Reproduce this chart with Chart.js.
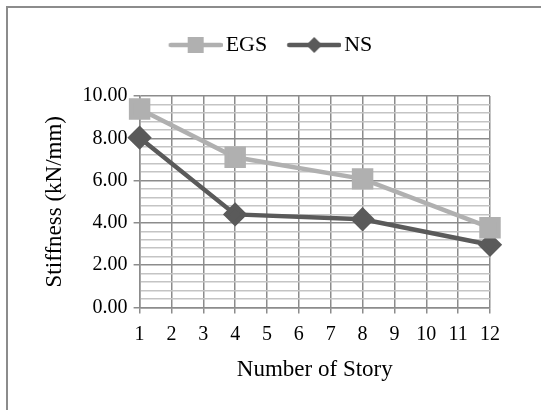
<!DOCTYPE html>
<html>
<head>
<meta charset="utf-8">
<script src="https://cdn.jsdelivr.net/npm/chart.js@4"></script>
<style>
  html, body { margin: 0; padding: 0; background: #fff; }
  #frame { position: absolute; left: 6px; top: 6px; width: 560px; height: 430px;
           border-left: 2px solid #8c8c8c; border-top: 2px solid #8c8c8c; }
  #wrap { position: absolute; left: 0; top: 0; width: 541px; height: 410px; }
</style>
</head>
<body>
<div id="frame"></div>
<div id="wrap"><canvas id="chart" width="541" height="410"></canvas></div>
<script>
// categorias do eixo X (numero de andares)
const stories = ["1", "2", "3", "4", "5", "6", "7", "8", "9", "10", "11", "12"];
// valores (null = sem ponto)
const egsValues = [9.38, null, null, 7.10, null, null, null, 6.08, null, null, null, 3.77];
const nsValues = [8.03, null, null, 4.40, null, null, null, 4.17, null, null, null, 2.96];
const yTicks = [0, 2, 4, 6, 8, 10];

const egsColor = "#b0b0b0";
const nsColor = "#5a5a5a";

// desenha o simbolo da legenda (linha + marcador)
function legendIcon(color, style) {
  const c = document.createElement("canvas");
  c.width = 56;
  c.height = 20;
  const g = c.getContext("2d");
  g.strokeStyle = color;
  g.fillStyle = color;
  g.lineWidth = 4.5;
  g.lineCap = "round";
  g.beginPath();
  g.moveTo(4, 10);
  g.lineTo(54, 10);
  g.stroke();
  if (style === "rect") {
    g.fillRect(29 - 8, 10 - 8, 16, 16);
  } else {
    g.beginPath();
    g.moveTo(29, 2);
    g.lineTo(37, 10);
    g.lineTo(29, 18);
    g.lineTo(21, 10);
    g.closePath();
    g.fill();
  }
  return c;
}

const isMajor = v => Math.abs(v / 2 - Math.round(v / 2)) < 1e-6;

// espaco extra entre a legenda e o grafico, e legenda um pouco a direita
const legendGap = {
  id: "legendGap",
  beforeInit(chart) {
    const fit = chart.legend.fit;
    chart.legend.fit = function () {
      fit.bind(chart.legend)();
      this.height += 30;
    };
  },
  afterLayout(chart) {
    chart.legend.left += 10;
    chart.legend.right += 10;
  }
};

const ctx = document.getElementById("chart").getContext("2d");

new Chart(ctx, {
  type: "line",
  plugins: [legendGap],
  data: {
    labels: stories,
    datasets: [
      {
        label: "EGS",
        data: egsValues,
        borderColor: egsColor,
        backgroundColor: egsColor,
        borderWidth: 4.5,
        pointStyle: "rect",
        pointRadius: 12,
        pointHoverRadius: 12,
        spanGaps: true,
        legendIcon: legendIcon(egsColor, "rect")
      },
      {
        label: "NS",
        data: nsValues,
        borderColor: nsColor,
        backgroundColor: nsColor,
        borderWidth: 4.5,
        pointStyle: "rectRot",
        pointRadius: 9,
        pointHoverRadius: 9,
        spanGaps: true,
        legendIcon: legendIcon(nsColor, "diamond")
      }
    ]
  },
  options: {
    responsive: false,
    animation: false,
    layout: { padding: { left: 37, right: 51, top: 8, bottom: 22 } },
    plugins: {
      tooltip: { enabled: false },
      legend: {
        position: "top",
        labels: {
          usePointStyle: true,
          pointStyleWidth: 40,
          padding: 26,
          color: "#000",
          font: { family: "Liberation Serif", size: 22 },
          generateLabels: chart => chart.data.datasets.map((ds, i) => ({
            text: ds.label,
            pointStyle: ds.legendIcon,
            fillStyle: ds.borderColor,
            strokeStyle: ds.borderColor,
            lineWidth: 0,
            fontColor: "#000",
            datasetIndex: i
          }))
        }
      }
    },
    scales: {
      x: {
        offset: false,
        grid: { color: "#8c8c8c", lineWidth: 1.5, tickLength: 6, tickColor: "#8c8c8c" },
        border: { color: "#8c8c8c", width: 1.5 },
        ticks: { color: "#000", padding: 9, maxRotation: 0, autoSkip: false,
                 font: { family: "Liberation Serif", size: 20 } },
        title: { display: true, text: "Number of Story", color: "#000", padding: { top: 1 },
                 font: { family: "Liberation Serif", size: 23 } }
      },
      y: {
        min: 0,
        max: 10,
        ticks: {
          stepSize: 0.4,
          autoSkip: false,
          color: "#000",
          padding: 6,
          font: { family: "Liberation Serif", size: 20 },
          callback: v => isMajor(v) && yTicks.includes(Math.round(v)) ? Math.round(v).toFixed(2) : ""
        },
        grid: {
          tickLength: 6,
          color: c => isMajor(c.tick.value) ? "#8c8c8c" : "#c4c4c4",
          tickColor: c => isMajor(c.tick.value) ? "#8c8c8c" : "rgba(0,0,0,0)",
          lineWidth: 1.5
        },
        border: { color: "#8c8c8c", width: 1.5 },
        title: { display: true, text: "Stiffness (kN/mm)", color: "#000", padding: { bottom: 8 },
                 font: { family: "Liberation Serif", size: 23 } }
      }
    }
  }
});
</script>
</body>
</html>
